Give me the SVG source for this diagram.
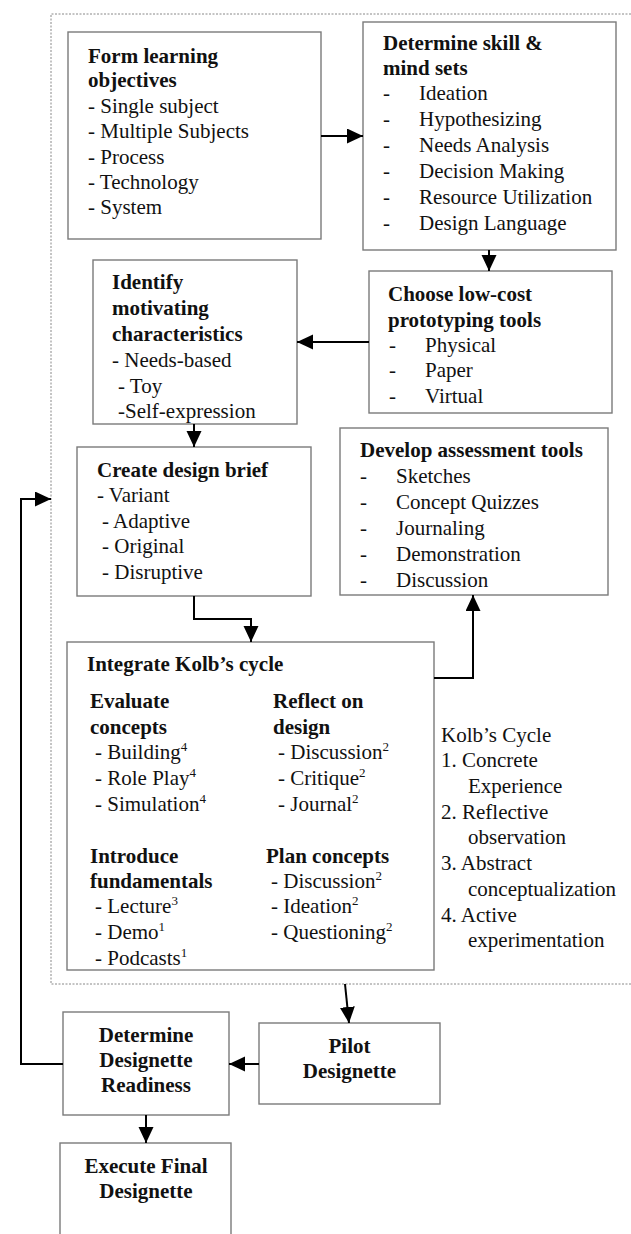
<svg xmlns="http://www.w3.org/2000/svg" width="631" height="1234" viewBox="0 0 631 1234">
<style>
text { font-family: "Liberation Serif", "Times New Roman", serif; font-size: 21px; fill: #111; }
.b { font-weight: bold; }
.c { text-anchor: middle; }
.box { fill: #fff; stroke: #7a7a7a; stroke-width: 1.4; }
.con { fill: none; stroke: #000; stroke-width: 2; }
.dot { fill: none; stroke: #888; stroke-width: 1; stroke-dasharray: 2 1.5; }
.sup { font-size: 13px; }
</style>
<defs>
<marker id="ah" markerUnits="userSpaceOnUse" markerWidth="17" markerHeight="16" refX="16" refY="7.5" orient="auto">
<path d="M0,0 L16,7.5 L0,15 z" fill="#000"/>
</marker>
</defs>
<rect width="631" height="1234" fill="#fff"/>
<path class="dot" d="M631,14 H51 V984 H631"/>

<g id="n-objectives">
<rect class="box" x="68" y="32" width="253" height="207"/>
<text x="88" y="63" class="b">Form learning</text>
<text x="88" y="87" class="b">objectives</text>
<text x="88" y="113">- Single subject</text>
<text x="88" y="138">- Multiple Subjects</text>
<text x="88" y="164">- Process</text>
<text x="88" y="189">- Technology</text>
<text x="88" y="214">- System</text>
</g>

<g id="n-skills">
<rect class="box" x="363" y="22" width="253" height="228"/>
<text x="383" y="50" class="b">Determine skill &amp;</text>
<text x="383" y="75" class="b">mind sets</text>
<text x="383" y="100">-</text><text x="419" y="100">Ideation</text>
<text x="383" y="126">-</text><text x="419" y="126">Hypothesizing</text>
<text x="383" y="152">-</text><text x="419" y="152">Needs Analysis</text>
<text x="383" y="178">-</text><text x="419" y="178">Decision Making</text>
<text x="383" y="204">-</text><text x="419" y="204">Resource Utilization</text>
<text x="383" y="230">-</text><text x="419" y="230">Design Language</text>
</g>

<g id="n-motivating">
<rect class="box" x="93" y="260" width="204" height="164"/>
<text x="112" y="289" class="b">Identify</text>
<text x="112" y="315" class="b">motivating</text>
<text x="112" y="341" class="b">characteristics</text>
<text x="112" y="367">- Needs-based</text>
<text x="118" y="393">- Toy</text>
<text x="118" y="418">-Self-expression</text>
</g>

<g id="n-prototyping">
<rect class="box" x="369" y="271" width="243" height="142"/>
<text x="388" y="301" class="b">Choose low-cost</text>
<text x="388" y="327" class="b">prototyping tools</text>
<text x="389" y="352">-</text><text x="425" y="352">Physical</text>
<text x="389" y="377">-</text><text x="425" y="377">Paper</text>
<text x="389" y="403">-</text><text x="425" y="403">Virtual</text>
</g>

<g id="n-brief">
<rect class="box" x="77" y="447" width="234" height="149"/>
<text x="97" y="477" class="b">Create design brief</text>
<text x="97" y="502">- Variant</text>
<text x="102" y="528">- Adaptive</text>
<text x="102" y="553">- Original</text>
<text x="102" y="579">- Disruptive</text>
</g>

<g id="n-assessment">
<rect class="box" x="340" y="428" width="268" height="167"/>
<text x="360" y="457" class="b">Develop assessment tools</text>
<text x="360" y="483">-</text><text x="396" y="483">Sketches</text>
<text x="360" y="509">-</text><text x="396" y="509">Concept Quizzes</text>
<text x="360" y="535">-</text><text x="396" y="535">Journaling</text>
<text x="360" y="561">-</text><text x="396" y="561">Demonstration</text>
<text x="360" y="587">-</text><text x="396" y="587">Discussion</text>
</g>

<g id="n-kolb">
<rect class="box" x="67" y="642" width="367" height="328"/>
<text x="87" y="671" class="b">Integrate Kolb’s cycle</text>
<text x="90" y="708" class="b">Evaluate</text>
<text x="90" y="734" class="b">concepts</text>
<text x="95" y="759">- Building<tspan class="sup" dy="-8">4</tspan></text>
<text x="95" y="785">- Role Play<tspan class="sup" dy="-8">4</tspan></text>
<text x="95" y="811">- Simulation<tspan class="sup" dy="-8">4</tspan></text>
<text x="273" y="708" class="b">Reflect on</text>
<text x="273" y="734" class="b">design</text>
<text x="278" y="759">- Discussion<tspan class="sup" dy="-8">2</tspan></text>
<text x="278" y="785">- Critique<tspan class="sup" dy="-8">2</tspan></text>
<text x="278" y="811">- Journal<tspan class="sup" dy="-8">2</tspan></text>
<text x="90" y="863" class="b">Introduce</text>
<text x="90" y="888" class="b">fundamentals</text>
<text x="95" y="913">- Lecture<tspan class="sup" dy="-8">3</tspan></text>
<text x="95" y="939">- Demo<tspan class="sup" dy="-8">1</tspan></text>
<text x="95" y="965">- Podcasts<tspan class="sup" dy="-8">1</tspan></text>
<text x="266" y="863" class="b">Plan concepts</text>
<text x="271" y="888">- Discussion<tspan class="sup" dy="-8">2</tspan></text>
<text x="271" y="913">- Ideation<tspan class="sup" dy="-8">2</tspan></text>
<text x="271" y="939">- Questioning<tspan class="sup" dy="-8">2</tspan></text>
</g>

<g id="n-legend">
<text x="441" y="742">Kolb’s Cycle</text>
<text x="441" y="767">1. Concrete</text>
<text x="468" y="793">Experience</text>
<text x="441" y="819">2. Reflective</text>
<text x="468" y="844">observation</text>
<text x="441" y="870">3. Abstract</text>
<text x="468" y="896">conceptualization</text>
<text x="441" y="922">4. Active</text>
<text x="468" y="947">experimentation</text>
</g>

<g id="n-pilot">
<rect class="box" x="259" y="1023" width="181" height="81"/>
<text x="349.5" y="1053" class="b c">Pilot</text>
<text x="349.5" y="1078" class="b c">Designette</text>
</g>

<g id="n-readiness">
<rect class="box" x="63" y="1012" width="166" height="103"/>
<text x="146" y="1042" class="b c">Determine</text>
<text x="146" y="1067" class="b c">Designette</text>
<text x="146" y="1092" class="b c">Readiness</text>
</g>

<g id="n-execute">
<rect class="box" x="60" y="1143" width="171" height="100"/>
<text x="146" y="1173" class="b c">Execute Final</text>
<text x="146" y="1198" class="b c">Designette</text>
</g>

<g id="connectors">
<path class="con" d="M321,136 H363" marker-end="url(#ah)"/>
<path class="con" d="M489,250 V271" marker-end="url(#ah)"/>
<path class="con" d="M369,342 H297" marker-end="url(#ah)"/>
<path class="con" d="M194,424 V447" marker-end="url(#ah)"/>
<path class="con" d="M194,596 V619 H251 V642" marker-end="url(#ah)"/>
<path class="con" d="M434,678 H473 V595" marker-end="url(#ah)"/>
<path class="con" d="M345,984 L349,1023" marker-end="url(#ah)"/>
<path class="con" d="M259,1064 H229" marker-end="url(#ah)"/>
<path class="con" d="M146,1115 V1143" marker-end="url(#ah)"/>
<path class="con" d="M63,1064 H21 V499 H51" marker-end="url(#ah)"/>
</g>
</svg>
